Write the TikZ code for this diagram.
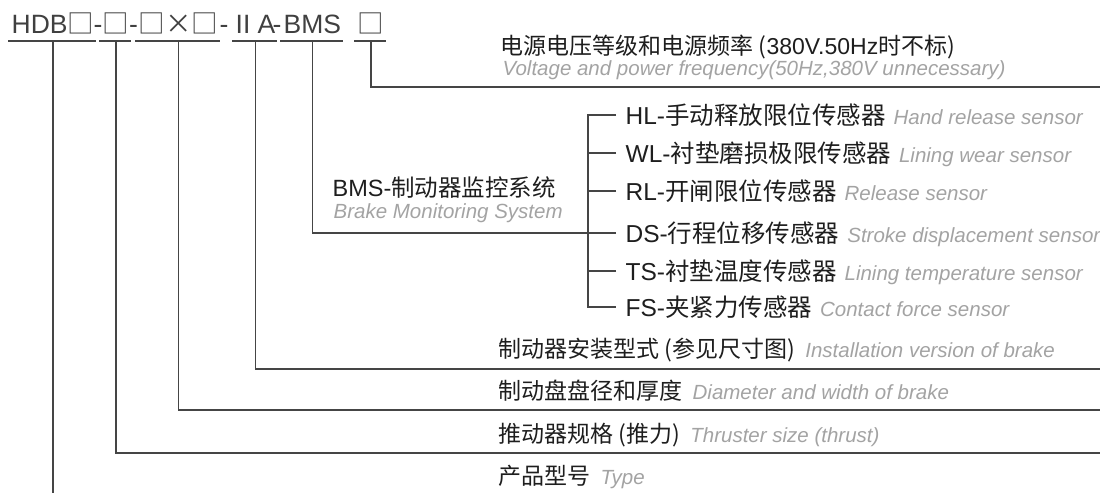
\documentclass[tikz,border=0pt]{standalone}
\usepackage{fontspec}
\setmainfont{Liberation Sans}
\newfontfamily\cjk{Noto Sans CJK SC}
\usetikzlibrary{calc,positioning}
\definecolor{linegray}{HTML}{454545}
\definecolor{engray}{HTML}{A3A3A3}
\definecolor{txt}{HTML}{1E1E1E}
\newcommand\zh[1]{{\cjk #1}}
\newcommand\en[1]{{\color{engray}\itshape\fontsize{20.5}{24}\selectfont #1}}
\newcommand\sq{{\cjk □}}

\begin{document}
\begin{tikzpicture}[x=1pt,y=-1pt,line width=1.3pt]
\tikzstyle{code}=[anchor=base west, inner sep=0pt, text=txt!85, font=\fontsize{26.5}{30}\selectfont]
\tikzstyle{lbl}=[anchor=base west, inner sep=0pt, text=txt, font=\fontsize{23}{27}\selectfont]
\tikzstyle{sensor}=[anchor=west, inner xsep=9pt, inner ysep=0pt, text height=18pt, text depth=0pt, text=txt, font=\fontsize{24.5}{28}\selectfont]
\tikzstyle{conn}=[draw=linegray]
\useasboundingbox (0,0) rectangle (1100,493);
% type code
\node[code] (p1) at (11,33) {HDB\sq};
\node[code] (d1) at (93,33) {-};
\node[code] (p2) at (102,33) {\sq};
\node[code] (d2) at (128.5,33) {-};
\node[code] (p3) at (138,33) {\zh{□×□}};
\node[code] (d3) at (219,33) {-};
\node[code] (p4) at (235,33) {II A};
\node[code] (d4) at (272,33) {-};
\node[code] (p5) at (283,33) {BMS};
\node[code] (p6) at (357,33) {\sq};
\foreach \p in {1,...,6}
   {
    \draw[conn] ($(p\p.base west)+(-3,8)$) -- ($(p\p.base east)+(1,8)$);
    \coordinate (t\p) at ($(p\p.base)+(0,8)$);
   }
% lines to the right edge
\coordinate (bottom) at (0,493);
\coordinate (bk) at (588,0);
\draw[conn] (t1) -- (t1 |- bottom);
\foreach \t/\y in {2/453,3/410,4/369,6/87}
   {
    \coordinate (r\t) at (1100,\y);
    \draw[conn] (t\t) |- (r\t);
   }
% labels
\node[lbl] (volt) at (500,54) {\zh{电源电压等级和电源频率 (}380V.50Hz\zh{时不标)}};
\node[lbl] (volten) at (502,75) {\en{Voltage and power frequency(50Hz,380V unnecessary)}};
\node[lbl, font=\fontsize{23.5}{28}\selectfont] (bms) at (332,196) {BMS-\zh{制动器监控系统}};
\node[lbl] (bmsen) at (333,218) {\en{Brake Monitoring System}};
\node[lbl] (inst) at (498,357) {\zh{制动器安装型式 (参见尺寸图)}\hspace{10pt}\en{Installation version of brake}};
\node[lbl] (disc) at (498,399) {\zh{制动盘盘径和厚度}\hspace{10pt}\en{Diameter and width of brake}};
\node[lbl] (thr) at (498,442) {\zh{推动器规格 (推力)}\hspace{10pt}\en{Thruster size (thrust)}};
\node[lbl] (type) at (498,484) {\zh{产品型号}\hspace{10pt}\en{Type}};
% sensors
\foreach \name/\y/\cn/\ename in {HL/115/手动释放限位传感器/Hand release sensor,
    WL/153/衬垫磨损极限传感器/Lining wear sensor, RL/191/开闸限位传感器/Release sensor,
    DS/233/行程位移传感器/Stroke displacement sensor, TS/271/衬垫温度传感器/Lining temperature sensor,
    FS/307/夹紧力传感器/Contact force sensor}
    \node[sensor] (\name) at (616,\y) {\name-\zh{\cn}\hspace{8pt}\en{\ename}};
\draw[conn] (HL.west) -| (FS.west -| bk) -- (FS.west);
\foreach \name in {WL,RL,DS,TS}
    \draw[conn] (\name.west) -- (\name.west -| bk);
\draw[conn] (t5) |- (DS.west -| bk);
\end{tikzpicture}
\end{document}
